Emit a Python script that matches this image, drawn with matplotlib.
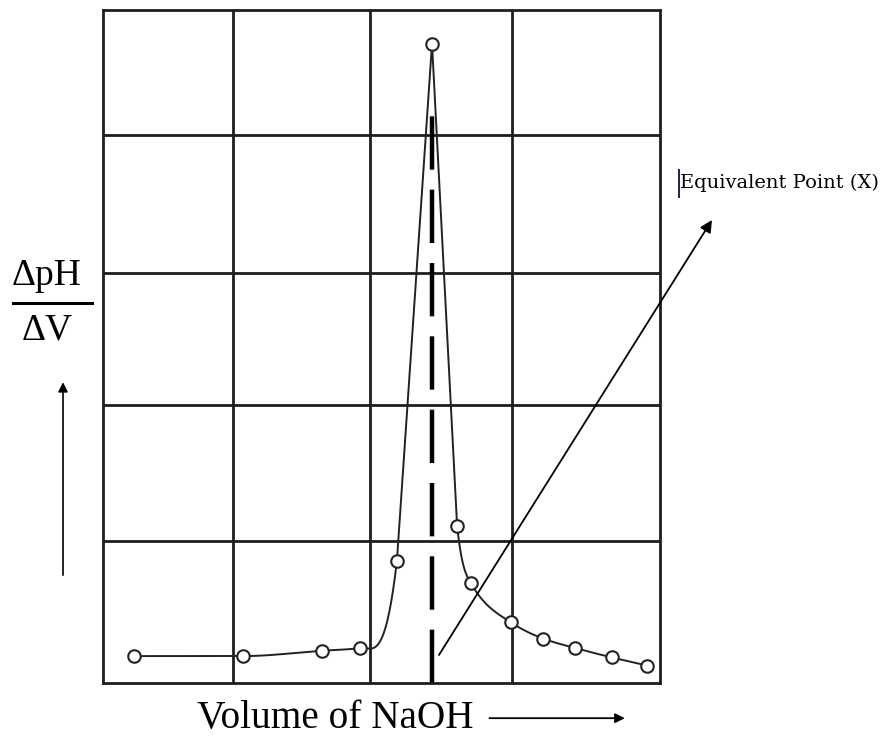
import numpy as np
import matplotlib.pyplot as plt
from matplotlib.lines import Line2D

# volume of NaOH (arbitrary units) and dpH/dV readings
vol = [1.67, 7.54, 11.80, 13.84, 15.83, 17.72, 19.07, 19.82, 21.97, 23.70, 25.42, 27.41, 29.30]
dpH = [0.20, 0.20, 0.24, 0.26, 0.91, 4.75, 1.17, 0.74, 0.45, 0.33, 0.26, 0.19, 0.13]
peak = 5  # index of the equivalence point
x_grid = [7.00, 14.38, 22.03]
y_grid = [1.055, 2.065, 3.046, 4.07]


def pchip(x, y, d0=None, d1=None, n=60):
    # monotone cubic through the points, optional end slopes
    x = np.asarray(x, float)
    y = np.asarray(y, float)
    h = np.diff(x)
    s = np.diff(y) / h
    d = np.zeros_like(y)
    for k in range(1, len(x) - 1):
        if s[k - 1] * s[k] > 0:
            w1 = 2 * h[k] + h[k - 1]
            w2 = h[k] + 2 * h[k - 1]
            d[k] = (w1 + w2) / (w1 / s[k - 1] + w2 / s[k])
    d[0] = s[0] if d0 is None else d0
    d[-1] = s[-1] if d1 is None else d1
    xs, ys = [], []
    for k in range(len(x) - 1):
        t = np.linspace(0, 1, n)
        h00 = 2 * t**3 - 3 * t**2 + 1
        h10 = t**3 - 2 * t**2 + t
        h01 = -2 * t**3 + 3 * t**2
        h11 = t**3 - t**2
        xs.append(x[k] + t * h[k])
        ys.append(h00 * y[k] + h10 * h[k] * d[k] + h01 * y[k + 1] + h11 * h[k] * d[k + 1])
    return np.concatenate(xs), np.concatenate(ys)


fig = plt.figure(figsize=(8.85, 7.45), dpi=100)
ax = fig.add_axes([0.1164, 0.0832, 0.6294, 0.9034])
ax.set_xlim(0, 30)
ax.set_ylim(0, 5)

for gx in x_grid:
    ax.axvline(gx, color='#1e1e1e', lw=2, zorder=1)
for gy in y_grid:
    ax.axhline(gy, color='#1e1e1e', lw=2, zorder=1)
for sp in ax.spines.values():
    sp.set_linewidth(2)
    sp.set_color('#1e1e1e')
ax.set_xticks([])
ax.set_yticks([])

# curve: smooth flanks, straight lines up to and down from the peak
lx, ly = pchip(vol[:peak], dpH[:peak], d1=1.2)
rx, ry = pchip(vol[peak + 1:], dpH[peak + 1:], d0=-1.3)
ax.plot(lx, ly, color='#222222', lw=1.4, zorder=3)
ax.plot(vol[peak - 1:peak + 2], dpH[peak - 1:peak + 2], color='#222222', lw=1.4, zorder=3)
ax.plot(rx, ry, color='#222222', lw=1.4, zorder=3)
ax.plot(vol, dpH, 'o', ms=9, mfc='white', mec='#222222', mew=1.5, zorder=4)

# equivalence point dashed line
ax.plot([vol[peak], vol[peak]], [0, 4.35], color='black', lw=3.2,
        dashes=(12, 4.5), zorder=2)

# pointer to the label
plt.annotate('', xy=(0.8045, 0.7047), xytext=(0.496, 0.1208), xycoords='figure fraction',
             arrowprops=dict(arrowstyle='-|>', color='black', lw=1.3,
                             mutation_scale=18, shrinkA=0, shrinkB=0))
fig.text(0.7684, 0.754, 'Equivalent Point (X)', fontsize=14,
         family='DejaVu Serif', ha='left', va='center')
fig.add_artist(Line2D([0.7672, 0.7672], [0.736, 0.772], color='#202040', lw=1.4))

# y label as a fraction
fig.text(0.0531, 0.630, '\u0394pH', fontsize=27, family='Liberation Serif',
         ha='center', va='center')
fig.add_artist(Line2D([0.0147, 0.104], [0.5933, 0.5933], color='black', lw=2.2))
fig.text(0.0531, 0.557, '\u0394V', fontsize=27, family='Liberation Serif',
         ha='center', va='center')
plt.annotate('', xy=(0.0712, 0.487), xytext=(0.0712, 0.228), xycoords='figure fraction',
             arrowprops=dict(arrowstyle='-|>', color='black', lw=1.2,
                             mutation_scale=14, shrinkA=0, shrinkB=0))

# x label
fig.text(0.3785, 0.035, 'Volume of NaOH', fontsize=28.3, family='Liberation Serif',
         ha='center', va='center')
plt.annotate('', xy=(0.706, 0.036), xytext=(0.553, 0.036), xycoords='figure fraction',
             arrowprops=dict(arrowstyle='-|>', color='black', lw=1.3,
                             mutation_scale=14, shrinkA=0, shrinkB=0))

fig.savefig('out.png', dpi=100)
